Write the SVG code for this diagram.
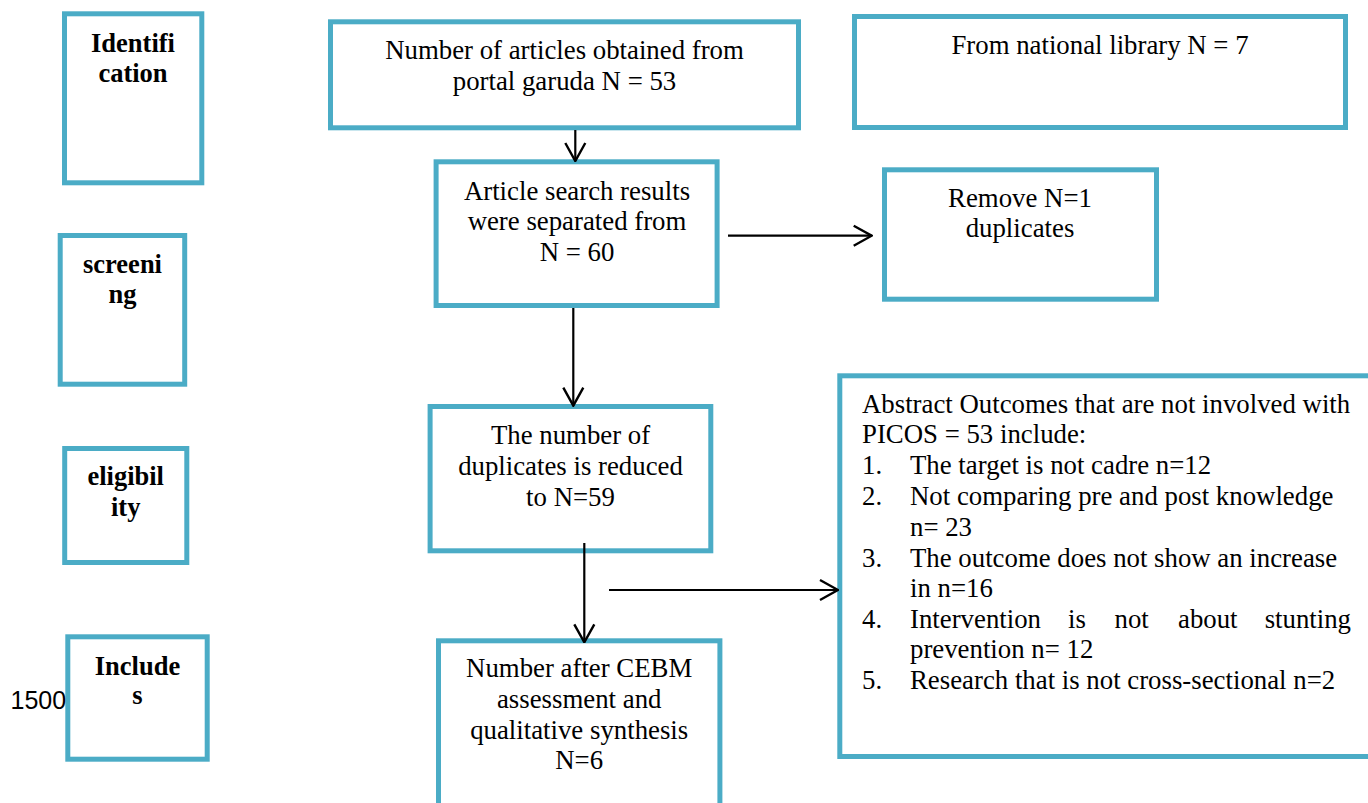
<svg xmlns="http://www.w3.org/2000/svg" width="1368" height="803" viewBox="0 0 1368 803">
<style>
.box{fill:#fff;stroke:#4BACC6;stroke-width:5}
.t{font-family:"Liberation Serif","Times New Roman",serif;font-size:26.8px;fill:#000}
.c{text-anchor:middle}
.lab{font-family:"Liberation Serif","Times New Roman",serif;font-size:26.5px;font-weight:bold;fill:#000;text-anchor:middle}
.con{stroke:#000;stroke-width:2.2;fill:none}
</style>
<defs>
<marker id="ah" viewBox="0 0 20 24" refX="19" refY="12" markerWidth="20" markerHeight="24" markerUnits="userSpaceOnUse" orient="auto">
<path d="M1,2 L19,12 L1,22" fill="none" stroke="#000" stroke-width="2.4"/>
</marker>
</defs>
<rect width="1368" height="803" fill="#fff"/>

<g id="identification">
<rect class="box" x="64.5" y="13.8" width="137.3" height="169"/>
<text class="lab" x="133" y="52">Identifi</text>
<text class="lab" x="133" y="82">cation</text>
</g>
<g id="screening">
<rect class="box" x="60.2" y="235.5" width="124.5" height="148.7"/>
<text class="lab" x="122.5" y="273">screeni</text>
<text class="lab" x="122.5" y="303">ng</text>
</g>
<g id="eligibility">
<rect class="box" x="64.7" y="448.5" width="122.1" height="114"/>
<text class="lab" x="125.7" y="485">eligibil</text>
<text class="lab" x="125.7" y="516">ity</text>
</g>
<g id="includes">
<rect class="box" x="67.8" y="636.8" width="139.4" height="122.4"/>
<text class="lab" x="137.5" y="675">Include</text>
<text class="lab" x="137.5" y="704">s</text>
</g>
<text x="10.5" y="709" font-family="Liberation Sans, Arial, sans-serif" font-size="25" fill="#000">1500</text>

<g id="portal">
<rect class="box" x="330.5" y="21.8" width="468" height="106"/>
<text class="t c" x="564.5" y="59">Number of articles obtained from</text>
<text class="t c" x="564.5" y="90">portal garuda N = 53</text>
</g>
<g id="library">
<rect class="box" x="854.5" y="16.5" width="491" height="111"/>
<text class="t c" x="1100" y="53.5">From national library N = 7</text>
</g>
<g id="search">
<rect class="box" x="436.1" y="161.8" width="281" height="143.7"/>
<text class="t c" x="577" y="199.5">Article search results</text>
<text class="t c" x="577" y="230">were separated from</text>
<text class="t c" x="577" y="260.5">N = 60</text>
</g>
<g id="remove">
<rect class="box" x="884.5" y="169.8" width="272" height="129.4"/>
<text class="t c" x="1020" y="207.3">Remove N=1</text>
<text class="t c" x="1020" y="237.3">duplicates</text>
</g>
<g id="reduced">
<rect class="box" x="430.1" y="406.5" width="280.7" height="144.3"/>
<text class="t c" x="570.5" y="444">The number of</text>
<text class="t c" x="570.5" y="474.7">duplicates is reduced</text>
<text class="t c" x="570.5" y="505.5">to N=59</text>
</g>
<g id="cebm">
<rect class="box" x="438.5" y="640.8" width="281.4" height="200"/>
<text class="t c" x="579.2" y="677.3">Number after CEBM</text>
<text class="t c" x="579.2" y="708.3">assessment and</text>
<text class="t c" x="579.2" y="739">qualitative synthesis</text>
<text class="t c" x="579.2" y="769.3">N=6</text>
</g>
<g id="excluded">
<rect class="box" x="839.8" y="375.8" width="600" height="380.7"/>
<text class="t" x="862" y="413.3">Abstract Outcomes that are not involved with</text>
<text class="t" x="862" y="443.3">PICOS = 53 include:</text>
<text class="t" x="862" y="474.3">1.</text><text class="t" x="910" y="474.3">The target is not cadre n=12</text>
<text class="t" x="862" y="505">2.</text><text class="t" x="910" y="505">Not comparing pre and post knowledge</text>
<text class="t" x="910" y="535.7">n= 23</text>
<text class="t" x="862" y="566.7">3.</text><text class="t" x="910" y="566.7">The outcome does not show an increase</text>
<text class="t" x="910" y="597.3">in n=16</text>
<text class="t" x="862" y="627.7">4.</text><text class="t" x="910" y="627.7">Intervention</text><text class="t" x="1068" y="627.7">is</text><text class="t" x="1114.5" y="627.7">not</text><text class="t" x="1178" y="627.7">about</text><text class="t" x="1351" y="627.7" text-anchor="end">stunting</text>
<text class="t" x="910" y="658.3">prevention n= 12</text>
<text class="t" x="862" y="689">5.</text><text class="t" x="910" y="689">Research that is not cross-sectional n=2</text>
</g>

<g id="connectors">
<line class="con" x1="575.3" y1="130" x2="575.3" y2="161" marker-end="url(#ah)"/>
<line class="con" x1="728" y1="235.7" x2="871.7" y2="235.7" marker-end="url(#ah)"/>
<line class="con" x1="573.3" y1="308" x2="573.3" y2="405.7" marker-end="url(#ah)"/>
<line class="con" x1="584.3" y1="543" x2="584.3" y2="642.3" marker-end="url(#ah)"/>
<line class="con" x1="609" y1="590" x2="838" y2="590" marker-end="url(#ah)"/>
</g>
</svg>
